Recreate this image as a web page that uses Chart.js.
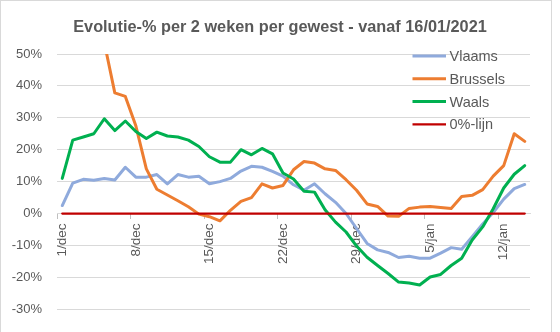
<!DOCTYPE html>
<html>
<head>
<meta charset="utf-8">
<script src="https://cdn.jsdelivr.net/npm/chart.js@4"></script>
<style>
  html, body { margin: 0; padding: 0; background: #ffffff; }
  canvas { display: block; }
</style>
</head>
<body>
<canvas id="chart" width="560" height="332"></canvas>
<script>
// Days on the category axis (1 December 2020 - 14 January 2021)
const categories = [
  '1/dec', '2/dec', '3/dec', '4/dec', '5/dec', '6/dec', '7/dec', '8/dec', '9/dec', '10/dec',
  '11/dec', '12/dec', '13/dec', '14/dec', '15/dec', '16/dec', '17/dec', '18/dec', '19/dec', '20/dec',
  '21/dec', '22/dec', '23/dec', '24/dec', '25/dec', '26/dec', '27/dec', '28/dec', '29/dec', '30/dec',
  '31/dec', '1/jan', '2/jan', '3/jan', '4/jan', '5/jan', '6/jan', '7/jan', '8/jan', '9/jan',
  '10/jan', '11/jan', '12/jan', '13/jan', '14/jan'
];

// Days that get a label and a tick mark
const tickLabels = ['1/dec', '8/dec', '15/dec', '22/dec', '29/dec', '5/jan', '12/jan'];

// Two-week evolution in percent, per region
const vlaams = [
  2.5, 9.5, 10.7, 10.4, 11.0, 10.5, 14.5, 11.4, 11.4, 12.2,
  9.3, 12.2, 11.4, 11.7, 9.3, 10.0, 11.0, 13.3, 14.8, 14.5,
  13.2, 11.7, 9.0, 7.3, 9.3, 6.2, 3.5, 0.0, -4.7, -9.4,
  -11.4, -12.2, -13.8, -13.4, -14.0, -14.0, -12.4, -10.7, -11.2, -7.3,
  -3.3, 0.3, 4.5, 7.8, 9.1
];
const brussels = [
  null, null, null, null, 53.6, 37.8, 36.7, 27.5, 14.0, 7.6,
  5.8, 4.0, 2.1, -0.2, -1.0, -2.3, 1.0, 3.8, 5.0, 9.3,
  8.0, 8.8, 13.7, 16.3, 15.8, 14.0, 13.5, 10.6, 7.3, 3.0,
  2.2, -0.8, -0.9, 1.6, 2.0, 2.2, 1.9, 1.6, 5.3, 5.7,
  7.5, 11.7, 15.0, 25.0, 22.6
];
const waals = [
  11.0, 23.0, 24.0, 25.0, 29.7, 26.0, 29.0, 25.7, 23.5, 25.5,
  24.3, 24.0, 23.0, 21.0, 17.8, 16.1, 16.1, 20.0, 18.4, 20.4,
  18.7, 12.7, 10.8, 7.0, 6.7, 1.2, -2.7, -5.8, -10.2, -13.7,
  -16.3, -18.8, -21.5, -21.8, -22.4, -19.9, -19.1, -16.3, -14.0, -8.3,
  -4.2, 1.5, 8.0, 12.3, 15.0
];
const nulLijn = [
  0, 0, 0, 0, 0, 0, 0, 0, 0, 0,
  0, 0, 0, 0, 0, 0, 0, 0, 0, 0,
  0, 0, 0, 0, 0, 0, 0, 0, 0, 0,
  0, 0, 0, 0, 0, 0, 0, 0, 0, 0,
  0, 0, 0, 0, 0
];

const seriesNames = ['Vlaams', 'Brussels', 'Waals', '0%-lijn'];
const chartTitle = 'Evolutie-% per 2 weken per gewest - vanaf 16/01/2021';

const TEXT = '#595959';
const FONT = '"Liberation Sans", Arial, sans-serif';

// Title, legend and outer frame drawn around the plot
const framePlugin = {
  id: 'frame',
  beforeDraw(chart) {
    const ctx = chart.ctx;
    ctx.save();
    ctx.fillStyle = '#ffffff';
    ctx.fillRect(0, 0, chart.width, chart.height);
    ctx.restore();
  },
  afterDraw(chart) {
    const ctx = chart.ctx;
    ctx.save();

    ctx.strokeStyle = '#d9d9d9';
    ctx.lineWidth = 1;
    ctx.strokeRect(0.5, 0.5, 551, 360);

    ctx.fillStyle = TEXT;
    ctx.font = 'bold 16.3px ' + FONT;
    ctx.textAlign = 'center';
    ctx.textBaseline = 'alphabetic';
    ctx.fillText(chartTitle, 280, 32);

    ctx.font = '14.5px ' + FONT;
    ctx.textAlign = 'left';
    chart.data.datasets.forEach((ds, k) => {
      const yLine = 56 + k * 22.8;
      ctx.strokeStyle = ds.borderColor;
      ctx.lineWidth = ds.borderWidth;
      ctx.lineCap = 'butt';
      ctx.beginPath();
      ctx.moveTo(412.5, yLine);
      ctx.lineTo(446, yLine);
      ctx.stroke();
      ctx.fillStyle = TEXT;
      ctx.fillText(ds.label, 449.5, yLine + 5);
    });

    ctx.restore();
  }
};

new Chart(document.getElementById('chart'), {
  type: 'line',
  data: {
    labels: categories,
    datasets: [
      { label: seriesNames[0], data: vlaams, borderColor: '#8faadc', borderWidth: 3, order: 3 },
      { label: seriesNames[1], data: brussels, borderColor: '#ed7d31', borderWidth: 3, order: 2, clip: 0 },
      { label: seriesNames[2], data: waals, borderColor: '#00b050', borderWidth: 3, order: 1 },
      { label: seriesNames[3], data: nulLijn, borderColor: '#c00000', borderWidth: 2.25, order: 0 }
    ]
  },
  options: {
    responsive: false,
    devicePixelRatio: 1,
    animation: false,
    events: [],
    layout: { padding: { left: 0, top: 54, right: 30, bottom: 18 } },
    elements: {
      line: { tension: 0, fill: false, borderJoinStyle: 'round', borderCapStyle: 'round' },
      point: { radius: 0, hoverRadius: 0 }
    },
    plugins: {
      legend: { display: false },
      title: { display: false },
      tooltip: { enabled: false }
    },
    scales: {
      x: {
        type: 'category',
        position: { y: 0 },
        offset: true,
        grid: {
          offset: true,
          drawOnChartArea: false,
          drawTicks: true,
          tickLength: 5,
          tickWidth: 1,
          tickColor: (c) => (c.index !== undefined && tickLabels.includes(categories[c.index])) ? '#bfbfbf' : 'rgba(0,0,0,0)'
        },
        border: { display: true, color: '#d9d9d9', width: 1 },
        ticks: {
          autoSkip: false,
          minRotation: 90,
          maxRotation: 90,
          padding: 5,
          color: TEXT,
          font: { family: FONT, size: 13.5 },
          callback: (value, index) => tickLabels.includes(categories[index]) ? categories[index] : ''
        }
      },
      y: {
        min: -30,
        max: 50,
        grid: { color: '#d9d9d9', lineWidth: 1, drawTicks: false },
        border: { display: false },
        ticks: {
          stepSize: 10,
          padding: 15,
          color: TEXT,
          font: { family: FONT, size: 13 },
          callback: (v) => v + '%'
        },
        afterFit: (scale) => { scale.width = 57; }
      }
    }
  },
  plugins: [framePlugin]
});
</script>
</body>
</html>
